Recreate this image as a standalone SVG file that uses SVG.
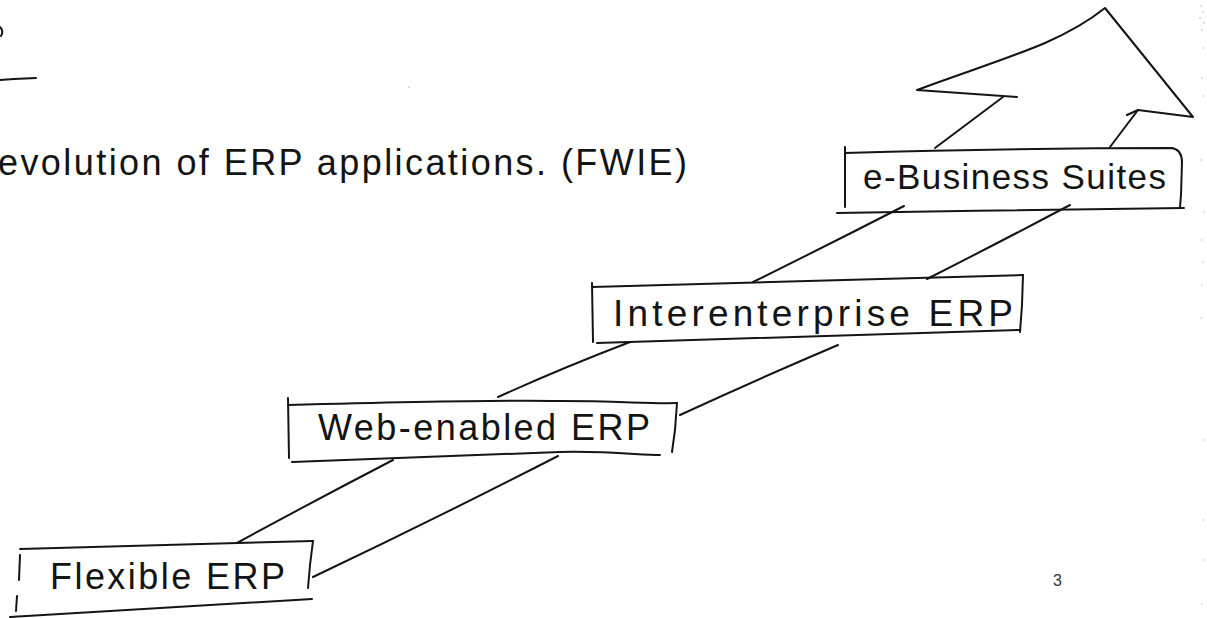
<svg xmlns="http://www.w3.org/2000/svg" width="1207" height="618" viewBox="0 0 1207 618">
  <defs>
    <style>
      .ink { fill: none; stroke: #141414; stroke-width: 2; stroke-linecap: round; stroke-linejoin: round; }
      .label { font-family: "Liberation Sans", Arial, sans-serif; font-size: 36px; fill: #141414; }
      .speck { fill: #b8b8b8; }
    </style>
  </defs>

  <rect x="0" y="0" width="1207" height="618" fill="#ffffff"/>

  <!-- heading -->
  <g id="heading">
    <path class="ink" d="M0,27 Q4,31 1,36" stroke-width="1.5"/>
    <path class="ink" d="M0,80 L14,79" stroke-width="1" stroke="#777"/>
    <path class="ink" d="M14,79 L36,78" stroke-width="1.6"/>
    <circle class="speck" cx="409" cy="87" r="0.8"/>
    <text class="label" x="-2" y="175" textLength="689" lengthAdjust="spacing">evolution of ERP applications. (FWIE)</text>
  </g>

  <!-- rails of the staircase arrow -->
  <g id="connectors">
    <path class="ink" d="M237,543 Q312,502 393,460"/>
    <path class="ink" d="M313,577 Q433,520 558,456"/>
    <path class="ink" d="M498,397 Q562,368 630,342"/>
    <path class="ink" d="M680,415 Q758,379 838,345"/>
    <path class="ink" d="M753,282 Q828,245 904,206"/>
    <path class="ink" d="M927,279 Q998,243 1070,205"/>
    <path class="ink" d="M935,148 L1003,97"/>
    <path class="ink" d="M1110,147 L1138,110"/>
  </g>

  <!-- arrowhead at the top of the staircase -->
  <g id="arrow-head">
    <path class="ink" d="M1017,97 L917,90 C960,74 1010,58 1045,43 C1070,32 1090,20 1105,8 L1193,117 L1138,110 L1127,115"/>
  </g>

  <g id="node-flexible">
    <path class="ink" d="M20,549 C120,546 220,543 313,541"/>
    <path class="ink" d="M313,541 L310,565 L308,588"/>
    <path class="ink" d="M10,617 C110,611 210,605 312,599"/>
    <path class="ink" d="M20,555 L19,580"/>
    <path class="ink" d="M17,596 L16,611"/>
    <text class="label" x="50" y="589" textLength="235" lengthAdjust="spacing">Flexible ERP</text>
  </g>

  <g id="node-web">
    <path class="ink" d="M288,405 C400,402 500,400 560,401 C620,401 650,404 677,403"/>
    <path class="ink" d="M288,398 L289,458"/>
    <path class="ink" d="M677,403 L675,430 L672,452"/>
    <path class="ink" d="M292,462 C400,458 480,455 560,452 C610,451 640,455 660,455"/>
    <text class="label" x="318" y="440" textLength="332" lengthAdjust="spacing">Web-enabled ERP</text>
  </g>

  <g id="node-inter">
    <path class="ink" d="M592,287 C750,283 900,279 1023,275"/>
    <path class="ink" d="M592,283 L593,342"/>
    <path class="ink" d="M1023,275 L1022,305 L1020,332"/>
    <path class="ink" d="M597,343 C740,338 880,334 1020,330"/>
    <text class="label" x="613" y="326" textLength="400" lengthAdjust="spacing" style="font-size:37px">Interenterprise ERP</text>
  </g>

  <g id="node-ebusiness">
    <path class="ink" d="M845,153 C950,150 1080,148 1172,148 Q1182,150 1182,162"/>
    <path class="ink" d="M845,147 L845,207"/>
    <path class="ink" d="M1182,162 L1181,195 L1180,207"/>
    <path class="ink" d="M837,213 C950,211 1080,209 1184,208"/>
    <text class="label" x="863" y="189" textLength="303" lengthAdjust="spacing" style="font-size:35px">e-Business Suites</text>
  </g>

  <!-- page number -->
  <text x="1053" y="586" style="font-family:'Liberation Sans', Arial, sans-serif; font-size:16px; fill:#333">3</text>

  <!-- specks along the right margin -->
  <g id="margin-specks">
    <circle class="speck" cx="1201" cy="6" r="0.8"/>
    <circle class="speck" cx="1203" cy="12" r="0.8"/>
    <circle class="speck" cx="1200" cy="18" r="0.8"/>
    <circle class="speck" cx="1204" cy="23" r="0.8"/>
    <circle class="speck" cx="1202" cy="30" r="0.8"/>
    <circle class="speck" cx="1203" cy="48" r="0.7"/>
    <circle class="speck" cx="1202" cy="78" r="0.7"/>
    <circle class="speck" cx="1203" cy="96" r="0.7"/>
    <circle class="speck" cx="1201" cy="160" r="0.7"/>
    <circle class="speck" cx="1204" cy="212" r="0.7"/>
    <circle class="speck" cx="1202" cy="240" r="0.7"/>
    <circle class="speck" cx="1203" cy="262" r="0.7"/>
    <circle class="speck" cx="1202" cy="285" r="0.7"/>
    <circle class="speck" cx="1201" cy="318" r="0.7"/>
    <circle class="speck" cx="1204" cy="440" r="0.7"/>
    <circle class="speck" cx="1203" cy="520" r="0.7"/>
    <circle class="speck" cx="1204" cy="560" r="0.7"/>
    <circle class="speck" cx="1202" cy="604" r="0.7"/>
  </g>
</svg>
